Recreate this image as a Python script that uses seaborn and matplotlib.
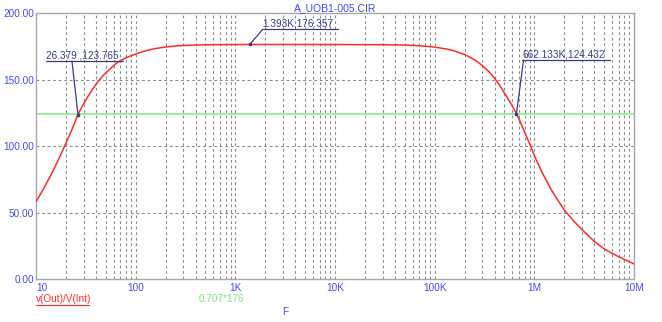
import numpy as np
import pandas as pd
import matplotlib
matplotlib.use("Agg")
import matplotlib.pyplot as plt
from matplotlib.lines import Line2D
import seaborn as sns

# ---- data ----
freq = [10, 11, 12, 13, 14, 15, 16, 17.5, 19.2, 21, 23, 26.379, 28, 30, 33, 36, 40, 45,
        50, 57, 65, 70, 80, 90, 100, 120, 150, 200, 250, 300, 400, 500, 700, 1000, 1393,
        3000, 10000, 30000, 50000, 70000, 100000, 130000, 150000, 200000, 250000,
        300000, 350000, 400000, 450000, 500000, 580000, 662133, 730000, 800000, 900000,
        1000000, 1200000, 1500000, 1800000, 2000000, 2500000, 3000000, 3500000,
        4000000, 4500000, 5000000, 6000000, 7000000, 8500000, 10000000]
gain = [58.3, 63.5, 68.5, 73.3, 77.9, 82.3, 86.6, 92.7, 99.5, 106.0, 112.7, 123.765,
        127.6, 131.7, 137.0, 141.5, 146.5, 151.3, 155.0, 158.8, 162.6, 164.2, 166.3,
        167.9, 169.2, 171.2, 173.0, 174.5, 175.2, 175.6, 176.0, 176.1, 176.25, 176.3,
        176.357, 176.35, 176.3, 176.2, 175.9, 175.4, 174.4, 173.0, 172.0, 168.8, 165.0,
        160.6, 156.0, 151.0, 145.5, 140.0, 132.2, 124.432, 117.5, 110.5, 101.5, 93.0,
        80.0, 66.5, 57.2, 52.0, 43.5, 37.5, 32.5, 28.5, 25.5, 23.0, 19.6, 17.0, 14.0, 11.5]
ref_level = 0.707 * 176

markers_f = [26.379, 1393, 662133]
markers_v = [123.765, 176.357, 124.432]
marker_labels = ["26.379 ,123.765", "1.393K,176.357", "662.133K,124.432"]

xticks = [10, 100, 1000, 10000, 100000, 1000000, 10000000]
xtick_labels = ["10", "100", "1K", "10K", "100K", "1M", "10M"]
yticks = [0, 50, 100, 150, 200]
ytick_labels = ["0.00", "50.00", "100.00", "150.00", "200.00"]

title = "A_UOB1-005.CIR"
trace_label = "v(Out)/V(Int)"
ref_label = "0.707*176"
xlabel = "F"

# ---- style ----
sns.set_style("white")
plt.rcParams['font.family'] = ['Liberation Sans', 'DejaVu Sans']

W, H, DPI = 662, 322, 100
fig = plt.figure(figsize=(W / DPI, H / DPI), dpi=DPI)
L, R, T, B = 36, 634, 13, 279.3
ax = fig.add_axes([L / W, 1 - B / H, (R - L) / W, (B - T) / H])

blue = "#4646ff"
navy = "#3a3a8a"
red = "#ff2a2a"
green = "#8ff08f"
grid_c = "#8c8c8c"

df = pd.DataFrame({"F": freq, "gain": gain})
ax.set_xscale("log")
ax.set_xlim(10, 1e7)
ax.set_ylim(0, 200)

# grid
minor = []
for d in range(1, 7):
    for m in range(1, 10):
        minor.append(m * 10 ** d)
for x in minor:
    if 10 < x < 1e7:
        ax.axvline(x, color=grid_c, lw=0.8, ls=(0, (2.5, 2.5)), zorder=1)
for y in [50, 100, 150]:
    ax.axhline(y, color=grid_c, lw=0.8, ls=(0, (2.5, 2.5)), zorder=1)

ax.axhline(ref_level, color=green, lw=1.3, zorder=2)
sns.lineplot(data=df, x="F", y="gain", ax=ax, color=red, lw=1.1, zorder=3)

for s in ax.spines.values():
    s.set_color("#a8a8a8")
    s.set_linewidth(1.0)

ax.set_xticks(xticks)
ax.set_xticklabels(xtick_labels)
ax.xaxis.set_minor_locator(matplotlib.ticker.NullLocator())
ax.set_yticks(yticks)
ax.set_yticklabels(ytick_labels)
ax.tick_params(axis="both", length=0, labelsize=7.2, labelcolor=blue)
ax.tick_params(axis="x", pad=3)
ax.tick_params(axis="y", pad=1.5)
lbls = ax.get_xticklabels()
lbls[0].set_horizontalalignment("left")
ax.set_xlabel("")
ax.set_ylabel("")

ax.set_title(title, color=blue, fontsize=7.5, pad=1.5)

# marker annotations (offsets in pixels)
offsets = [(-32, 45, -6, 53.4), (13, 88, 13, 15.0), (6, 94, 7, 53.3)]
inv = fig.transFigure.inverted()
for fx, fy, lab, (x1, x2, xl, dy) in zip(markers_f, markers_v, marker_labels, offsets):
    px, py = ax.transData.transform((fx, fy))
    ax.plot([fx], [fy], marker="s", ms=2.0, color=navy, zorder=5)
    a = inv.transform([(px + x1, py + dy), (px + x2, py + dy)])
    fig.add_artist(Line2D(a[:, 0], a[:, 1], color=navy, lw=0.9))
    b = inv.transform([(px, py), (px + xl, py + dy)])
    fig.add_artist(Line2D(b[:, 0], b[:, 1], color=navy, lw=0.9))
    t = inv.transform([(px + x1, py + dy + 1)])[0]
    fig.text(t[0], t[1], lab, color=navy, fontsize=7.2, ha="left", va="bottom")

# bottom labels
fig.text(36 / W, 1 - 298.5 / H, trace_label, color=red, fontsize=7.2, ha="left", va="center")
fig.add_artist(Line2D([36 / W, 89 / W], [1 - 304.5 / H, 1 - 304.5 / H], color=red, lw=0.8))
fig.text(221 / W, 1 - 298.5 / H, ref_label, color="#7ae87a", fontsize=7.2, ha="center", va="center")
fig.text(285.5 / W, 1 - 312 / H, xlabel, color=blue, fontsize=7.2, ha="center", va="center")

fig.savefig("out.png", dpi=DPI)
